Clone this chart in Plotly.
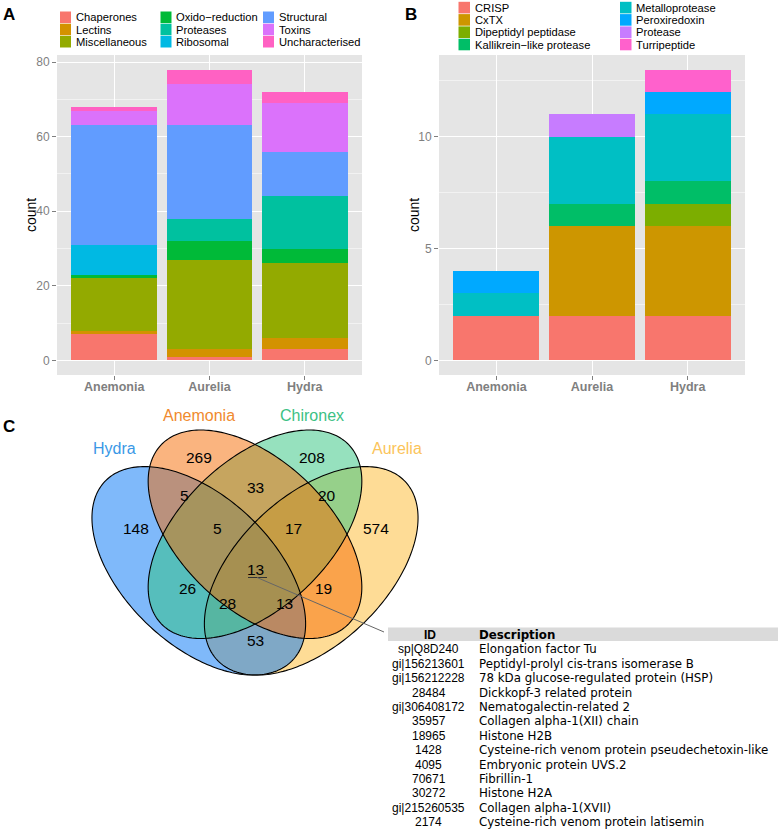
import numpy as np
import plotly.graph_objects as go

W, H = 778, 833
def px(x):
    return x / W
def py(y):
    return 1 - y / H

FONT = "Liberation Sans, Arial, sans-serif"
DJ = "DejaVu Sans, sans-serif"

# ---------------- data ----------------
species = ["Anemonia", "Aurelia", "Hydra"]

a_categories = ["Chaperones", "Lectins", "Miscellaneous", "Oxido\u2212reduction", "Proteases",
                "Ribosomal", "Structural", "Toxins", "Uncharacterised"]
chaperones = [7, 1, 3]
lectins = [1, 2, 3]
miscellaneous = [14, 24, 20]
oxido_reduction = [1, 5, 4]
proteases = [0, 6, 14]
ribosomal = [8, 0, 0]
structural = [32, 25, 12]
toxins = [4, 11, 13]
uncharacterised = [1, 4, 3]
a_values = [chaperones, lectins, miscellaneous, oxido_reduction, proteases,
            ribosomal, structural, toxins, uncharacterised]
a_colors = ["#F8766D", "#D39200", "#93AA00", "#00BA38", "#00C19F",
            "#00B9E3", "#619CFF", "#DB72FB", "#FF61C3"]

b_categories = ["CRISP", "CxTX", "Dipeptidyl peptidase", "Kallikrein\u2212like protease",
                "Metalloprotease", "Peroxiredoxin", "Protease", "Turripeptide"]
crisp = [2, 2, 2]
cxtx = [0, 4, 4]
dipeptidyl = [0, 0, 1]
kallikrein = [0, 1, 1]
metalloprotease = [1, 3, 3]
peroxiredoxin = [1, 0, 1]
protease = [0, 1, 0]
turripeptide = [0, 0, 1]
b_values = [crisp, cxtx, dipeptidyl, kallikrein, metalloprotease,
            peroxiredoxin, protease, turripeptide]
b_colors = ["#F8766D", "#CD9600", "#7CAE00", "#00BE67",
            "#00BFC4", "#00A9FF", "#C77CFF", "#FF61CC"]

a_ticks = [0, 20, 40, 60, 80]
b_ticks = [0, 5, 10]

venn_sets = ["Hydra", "Anemonia", "Chironex", "Aurelia"]
venn_set_colors = ["#3A98E6", "#F08A2E", "#3CC184", "#FBC45A"]
venn_fills = ["rgba(0,115,245,0.5)", "rgba(245,105,0,0.5)",
              "rgba(45,195,125,0.5)", "rgba(253,185,45,0.5)"]
venn_counts = [269, 208, 5, 33, 20, 148, 5, 17, 574, 13, 26, 19, 28, 13, 53]

table_ids = ["sp|Q8D240", "gi|156213601", "gi|156212228", "28484", "gi|306408172",
             "35957", "18965", "1428", "4095", "70671", "30272", "gi|215260535", "2174"]
table_desc = ["Elongation factor Tu", "Peptidyl-prolyl cis-trans isomerase B",
              "78 kDa glucose-regulated protein (HSP)", "Dickkopf-3 related protein",
              "Nematogalectin-related 2", "Collagen alpha-1(XII) chain", "Histone H2B",
              "Cysteine-rich venom protein pseudechetoxin-like", "Embryonic protein UVS.2",
              "Fibrillin-1", "Histone H2A", "Collagen alpha-1(XVII)",
              "Cysteine-rich venom protein latisemin"]

# ---------------- figure ----------------
fig = go.Figure()

for name, vals, col in zip(a_categories, a_values, a_colors):
    fig.add_trace(go.Bar(x=species, y=vals, name=name, marker=dict(color=col, line=dict(width=0)),
                         xaxis="x", yaxis="y", showlegend=False, width=0.9))
for name, vals, col in zip(b_categories, b_values, b_colors):
    fig.add_trace(go.Bar(x=species, y=vals, name=name, marker=dict(color=col, line=dict(width=0)),
                         xaxis="x2", yaxis="y2", showlegend=False, width=0.9))

axis_common = dict(showgrid=True, gridcolor="white", gridwidth=1.3, zeroline=False,
                   ticks="outside", ticklen=4, tickcolor="#7F7F7F", tickwidth=1,
                   showline=False)

PA = dict(x0=57, x1=362, y0=55, y1=375)
PB = dict(x0=439, x1=745, y0=55, y1=375)

fig.update_layout(
    width=W, height=H, margin=dict(l=0, r=0, t=0, b=0),
    paper_bgcolor="white", plot_bgcolor="rgba(0,0,0,0)",
    barmode="stack", bargap=0.1,
    xaxis=dict(domain=[px(PA["x0"]), px(PA["x1"])], range=[-0.6, 2.6], anchor="y",
               categoryorder="array", categoryarray=species, ticklabelstandoff=-4,
               tickfont=dict(family=FONT, size=12.5, color="#7F7F7F", weight="bold"), **axis_common),
    yaxis=dict(domain=[py(PA["y1"]), py(PA["y0"])], range=[-3.9, 81.9], anchor="x",
               tickvals=a_ticks, tickfont=dict(family=FONT, size=12, color="#7F7F7F"),
               minor=dict(tickvals=[10, 30, 50, 70], showgrid=True, gridcolor="#F2F2F2",
                          gridwidth=0.6, ticks=""),
               **axis_common),
    xaxis2=dict(domain=[px(PB["x0"]), px(PB["x1"])], range=[-0.6, 2.6], anchor="y2",
                categoryorder="array", categoryarray=species, ticklabelstandoff=-4,
                tickfont=dict(family=FONT, size=12.5, color="#7F7F7F", weight="bold"), **axis_common),
    yaxis2=dict(domain=[py(PB["y1"]), py(PB["y0"])], range=[-0.65, 13.65], anchor="x2",
                tickvals=b_ticks, tickfont=dict(family=FONT, size=12, color="#7F7F7F"),
                minor=dict(tickvals=[2.5, 7.5, 12.5], showgrid=True, gridcolor="#F2F2F2",
                           gridwidth=0.6, ticks=""),
                **axis_common),
    xaxis3=dict(domain=[67.6 / W, 442.4 / W], range=[0, 1], visible=False, anchor="y3"),
    yaxis3=dict(domain=[py(742.7), py(377.0)], range=[0, 1], visible=False, anchor="x3"),
    font=dict(family=FONT),
)

shapes = []
annotations = []

# panel backgrounds (below gridlines)
for xr, yr in (("x domain", "y domain"), ("x2 domain", "y2 domain")):
    shapes.append(dict(type="rect", xref=xr, yref=yr, x0=0, x1=1, y0=0, y1=1,
                       fillcolor="#E5E5E5", line=dict(width=0), layer="below"))

def ann(x, y, text, size, color="black", family=FONT, xanchor="center", bold=False, **kw):
    f = dict(family=family, size=size, color=color)
    if bold:
        f["weight"] = "bold"
    annotations.append(dict(x=px(x), y=py(y), xref="paper", yref="paper", text=text,
                            showarrow=False, font=f, xanchor=xanchor, yanchor="middle", **kw))

# axis titles
ann(31, 215, "count", 14, textangle=-90)
ann(414, 215, "count", 14, textangle=-90)

# panel letters
ann(9, 15, "A", 17, bold=True)
ann(411, 15, "B", 17, bold=True)
ann(8.5, 426, "C", 17, bold=True)

# legend A (3 columns x 3 rows)
a_cols = [(60, 73.5), (160.5, 174), (263, 276.5)]
a_rows = [17.3, 29.5, 41.7]
for i, (name, col) in enumerate(zip(a_categories, a_colors)):
    c, r = divmod(i, 3)
    kx, tx = a_cols[c]
    yc = a_rows[r]
    shapes.append(dict(type="rect", xref="paper", yref="paper", x0=px(kx), x1=px(kx + 11),
                       y0=py(yc + 5.8), y1=py(yc - 5.8), fillcolor=col, line=dict(width=0), layer="above"))
    ann(tx, yc, name, 11.2, xanchor="left")

# legend B (2 columns x 4 rows)
b_cols = [(458.5, 472.5), (620, 633.5)]
b_rows = [7.6, 19.9, 32.2, 44.5]
for i, (name, col) in enumerate(zip(b_categories, b_colors)):
    c, r = divmod(i, 4)
    kx, tx = b_cols[c]
    yc = b_rows[r]
    shapes.append(dict(type="rect", xref="paper", yref="paper", x0=px(kx), x1=px(kx + 11.5),
                       y0=py(yc + 5.8), y1=py(yc - 5.8), fillcolor=col, line=dict(width=0), layer="above"))
    ann(tx, yc, name, 11.2, xanchor="left")

# ---------------- Venn (VennDiagram quad layout, model coords) ----------------
# order: Hydra, Anemonia, Chironex, Aurelia
ell_params = [(0.35, 0.47, 135), (0.50, 0.57, 135), (0.50, 0.57, 45), (0.65, 0.47, 45)]
t = np.linspace(0, 2 * np.pi, 241)
paths = []
for (cx, cy, rot) in ell_params:
    a, b = 0.35, 0.2
    th = np.deg2rad(rot)
    xs = cx + a * np.cos(t) * np.cos(th) - b * np.sin(t) * np.sin(th)
    ys = cy + a * np.cos(t) * np.sin(th) + b * np.sin(t) * np.cos(th)
    paths.append("M " + " L ".join(f"{x:.5f},{y:.5f}" for x, y in zip(xs, ys)) + " Z")

draw_order = [3, 0, 2, 1]  # Aurelia, Hydra, Chironex, Anemonia (bottom to top)
for k in draw_order:
    shapes.append(dict(type="path", xref="x3", yref="y3", path=paths[k], fillcolor=venn_fills[k],
                       line=dict(width=0), layer="above"))
for k in range(4):
    shapes.append(dict(type="path", xref="x3", yref="y3", path=paths[k], fillcolor="rgba(0,0,0,0)",
                       line=dict(color="black", width=1.1), layer="above"))

venn_label_pos = [(114.3, 448.5), (199.3, 415), (311.7, 415), (396.7, 448.5)]
for name, col, (x, y) in zip(venn_sets, venn_set_colors, venn_label_pos):
    ann(x, y, name, 16, color=col)

count_pos = [(199.3, 457), (311.7, 457), (184.3, 495), (255.7, 487), (327.3, 495),
             (136, 528), (217.7, 528), (293.3, 528), (375.7, 528), (255.7, 569.5),
             (187.7, 588.5), (323.3, 588.5), (227.7, 603), (284.3, 603), (255, 640)]
for v, (x, y) in zip(venn_counts, count_pos):
    ann(x, y, str(v), 15.5)

# connector from centre region to table
shapes.append(dict(type="line", xref="paper", yref="paper", x0=px(248), x1=px(267),
                   y0=py(577.5), y1=py(577.5), line=dict(color="#333333", width=1), layer="above"))
shapes.append(dict(type="line", xref="paper", yref="paper", x0=px(257), x1=px(384),
                   y0=py(577.5), y1=py(632), line=dict(color="#666666", width=1), layer="above"))

# ---------------- table ----------------
shapes.append(dict(type="rect", xref="paper", yref="paper", x0=px(388), x1=px(778),
                   y0=py(641), y1=py(627.5), fillcolor="#DADADA", line=dict(width=0), layer="above"))
ann(430, 634.5, "ID", 12, bold=True)
ann(476.5, 634.5, "Description", 11.8, family=DJ, bold=True, xanchor="left")
for i, (tid, desc) in enumerate(zip(table_ids, table_desc)):
    y = 649.3 + i * 14.4
    ann(429, y, tid, 12)
    ann(476.5, y, desc, 11.8, family=DJ, xanchor="left")

fig.update_layout(shapes=shapes, annotations=annotations)
fig.write_html("out.html", config={"displayModeBar": False},
               post_script="document.body.style.margin='0';document.body.style.overflow='hidden';")
